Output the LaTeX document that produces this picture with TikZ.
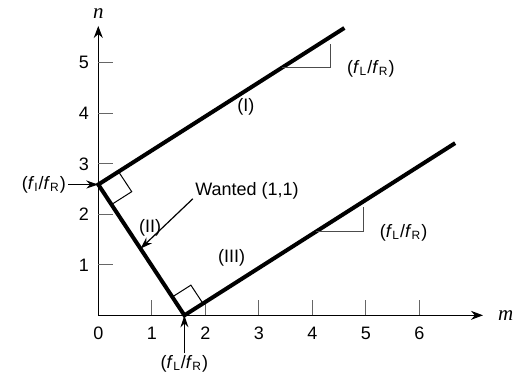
\documentclass[tikz,border=0pt]{standalone}
\usepackage{fontspec}
\setmainfont{Liberation Sans}
\newfontfamily\axisfont{Liberation Serif}
\usetikzlibrary{positioning, arrows.meta, calc}

\newcommand{\fratio}[1]{(\textit{f}\textsubscript{#1}/\textit{f}\textsubscript{R})}

\begin{document}
\begin{tikzpicture}[
  x=26.75pt, y=25.25pt,
  every node/.style={font=\fontsize{9}{11}\selectfont},
  axis/.style={line width=0.5pt, -{Stealth[length=6pt,width=4.5pt]}},
  tickmark/.style={line width=0.5pt, black!60},
  locus/.style={line width=2pt},
  rightmark/.style={line width=0.5pt},
  slopemark/.style={line width=0.5pt, black!70},
  pointer/.style={line width=0.6pt, -{Stealth[length=6pt,width=4pt]}},
  axislabel/.style={font=\axisfont\itshape\fontsize{10.5}{12}\selectfont},
]
\useasboundingbox (-1.837,-1.162) rectangle (7.770,6.244);

% === AXES ===
\coordinate (O) at (0,0);
\coordinate (xend) at (7.19,0);
\coordinate (yend) at (0,5.73);
\draw[axis] (O) -- (xend);
\draw[axis] (O) -- (yend);
\node[axislabel, right=4pt of xend] (mlab) {m};
\node[axislabel, above=0pt of yend] (nlab) {n};

\foreach \i in {1,...,6}
  \draw[tickmark] (\i,0) -- ++(0,7.5pt);
\foreach \i in {0,...,6}
  \node[below=2.5pt] (xt\i) at (\i,0) {\i};
\foreach \j in {1,...,5}{
  \draw[tickmark] (0,\j) -- ++(7.5pt,0);
  \node[left=1.2pt] (yt\j) at (0,\j) {\j};
}

% === LINES (I), (II), (III) ===
\coordinate (P) at (0,2.59);
\coordinate (Q) at (1.61,0);
\coordinate (Iend) at (4.6,5.69);
\coordinate (IIIend) at (6.67,3.41);
\draw[locus] (Iend) -- (P) -- (Q) -- (IIIend);

% right angles
\coordinate (pa) at ($(P)!12pt!(Iend)$);
\coordinate (pb) at ($(P)!12pt!(Q)$);
\draw[rightmark] (pa) -- ($(pa)+(pb)-(P)$) -- (pb);
\coordinate (qa) at ($(Q)!11pt!(P)$);
\coordinate (qb) at ($(Q)!11pt!(IIIend)$);
\draw[rightmark] (qa) -- ($(qa)+(qb)-(Q)$) -- (qb);

% slope triangles
\draw[slopemark] (3.44,4.9) -- (4.34,4.9) -- (4.34,5.37);
\draw[slopemark] (4.07,1.66) -- (4.95,1.66) -- (4.95,2.14);
\node[anchor=west] (slopeI) at (4.52,4.89) {\fratio{L}};
\node[anchor=west] (slopeIII) at (5.13,1.63) {\fratio{L}};

% === LABELS ===
\node (lI) at (2.76,4.12) {(I)};
\node (lII) at (0.97,1.73) {(II)};
\node (lIII) at (2.49,1.13) {(III)};

\node[inner sep=1pt] (wanted) at (2.78,2.46) {Wanted (1,1)};
\coordinate (w) at ($(P)!0.49!(Q)$);
\draw[pointer] (wanted.188) -- (w);

\node[inner sep=1pt, left=15pt of P] (fI) {\fratio{I}};
\draw[pointer] (fI) -- (P);
\node[inner sep=1pt, below=19pt of Q] (fL) {\fratio{L}};
\draw[pointer] (fL) -- (Q);

\end{tikzpicture}
\end{document}
